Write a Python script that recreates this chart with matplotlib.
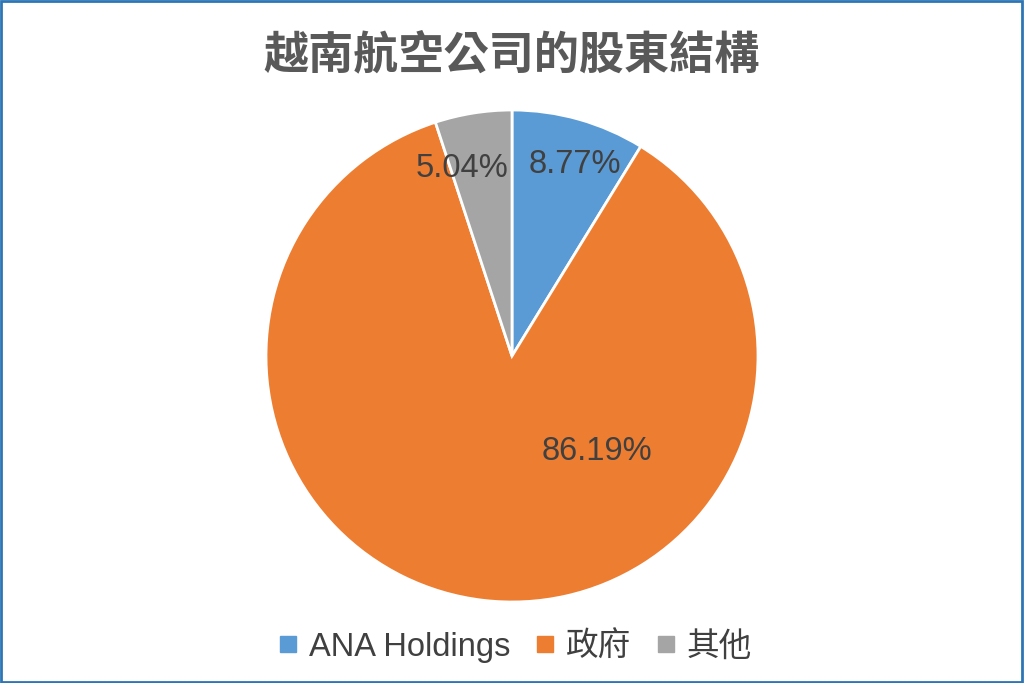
import matplotlib
matplotlib.use('Agg')
import matplotlib.pyplot as plt
from matplotlib.lines import Line2D
from matplotlib.patches import Rectangle
import numpy as np

plt.rcParams['font.family'] = ['Liberation Sans', 'Noto Sans CJK TC', 'DejaVu Sans']

title = '越南航空公司的股東結構'
labels = ['ANA Holdings', '政府', '其他']
shares = [8.77, 86.19, 5.04]
colors = ['#5B9BD5', '#ED7D31', '#A5A5A5']

fig = plt.figure(figsize=(10.24, 6.83), dpi=100)

# pie centre (512, 356) px, radius 246 px
cx, cy, r = 512, 356, 246
ax = fig.add_axes([(cx - r) / 1024, (683 - cy - r) / 683, 2 * r / 1024, 2 * r / 683])

wedges, _ = ax.pie(shares, colors=colors, startangle=90, counterclock=False,
                   wedgeprops=dict(edgecolor='white', linewidth=2))
ax.set_xlim(-1, 1)
ax.set_ylim(-1, 1)
ax.set_aspect('equal')
ax.axis('off')

# data labels, placed like Excel's best fit (angle in degrees, distance in radii)
label_pos = [(71.7, 0.82), (-48.5, 0.52), (104.9, 0.79)]
for val, (ang, dist) in zip(shares, label_pos):
    a = np.deg2rad(ang)
    ax.text(dist * np.cos(a), dist * np.sin(a), f'{val:.2f}%', ha='center', va='center',
            fontsize=23.5, color='#404040')

fig.text(0.5, 1 - 55 / 683, title, ha='center', va='center', fontsize=32.5,
         fontweight='bold', color='#595959', family=['Noto Sans CJK TC'])

handles = [Line2D([], [], marker='s', linestyle='none', markersize=11,
                  markerfacecolor=c, markeredgecolor=c) for c in colors]
fig.legend(handles, labels, loc='center', bbox_to_anchor=(0.5, 1 - 647 / 683), ncol=3,
           frameon=False, fontsize=23.5, labelcolor='#404040', handletextpad=0.15,
           columnspacing=0.55, handlelength=1.0)

fig.patches.append(Rectangle((0.001, 0.002), 0.997, 0.996, transform=fig.transFigure,
                             fill=False, edgecolor='#2E75B6', linewidth=2))

fig.savefig('out.png', dpi=100, facecolor='white')
